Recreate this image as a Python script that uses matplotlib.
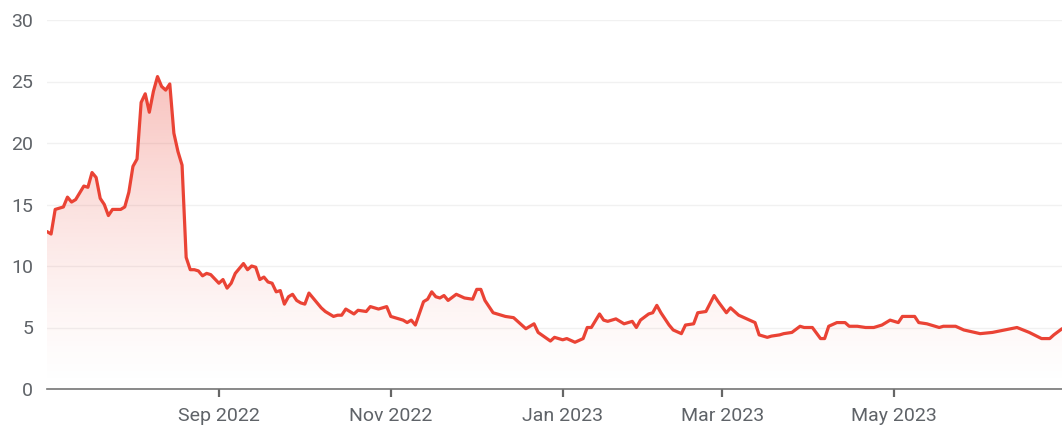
import matplotlib
matplotlib.use("Agg")
import matplotlib.pyplot as plt
import numpy as np
import pandas as pd
from matplotlib.colors import to_rgb

# trading days only (weekends and market holidays are skipped on the x axis)
market_holidays = [
    "2022-07-04", "2022-09-05", "2022-11-24", "2022-12-26", "2023-01-02",
    "2023-01-16", "2023-02-20", "2023-04-07", "2023-05-29", "2023-06-19",
]
dates = [
    "2022-07-05", "2022-07-06", "2022-07-07", "2022-07-11", "2022-07-12", "2022-07-13",
    "2022-07-14", "2022-07-18", "2022-07-19", "2022-07-20", "2022-07-21", "2022-07-22",
    "2022-07-25", "2022-07-26", "2022-07-27", "2022-07-29", "2022-08-01", "2022-08-02",
    "2022-08-03", "2022-08-04", "2022-08-05", "2022-08-08", "2022-08-09", "2022-08-10",
    "2022-08-11", "2022-08-12", "2022-08-15", "2022-08-16", "2022-08-17", "2022-08-18",
    "2022-08-19", "2022-08-22", "2022-08-23", "2022-08-24", "2022-08-25", "2022-08-26",
    "2022-08-29", "2022-08-30", "2022-09-01", "2022-09-02", "2022-09-06", "2022-09-07",
    "2022-09-08", "2022-09-12", "2022-09-13", "2022-09-14", "2022-09-15", "2022-09-16",
    "2022-09-19", "2022-09-20", "2022-09-21", "2022-09-22", "2022-09-23", "2022-09-26",
    "2022-09-27", "2022-09-28", "2022-09-29", "2022-09-30", "2022-10-03", "2022-10-04",
    "2022-10-05", "2022-10-07", "2022-10-10", "2022-10-12", "2022-10-13", "2022-10-14",
    "2022-10-17", "2022-10-19", "2022-10-20", "2022-10-24", "2022-10-25", "2022-10-27",
    "2022-10-31", "2022-11-01", "2022-11-03", "2022-11-04", "2022-11-07", "2022-11-08",
    "2022-11-09", "2022-11-11", "2022-11-14", "2022-11-15", "2022-11-16", "2022-11-17",
    "2022-11-18", "2022-11-21", "2022-11-23", "2022-11-28", "2022-11-30", "2022-12-01",
    "2022-12-02", "2022-12-05", "2022-12-07", "2022-12-09", "2022-12-12", "2022-12-14",
    "2022-12-15", "2022-12-19", "2022-12-21", "2022-12-22", "2022-12-28", "2022-12-29",
    "2023-01-03", "2023-01-04", "2023-01-06", "2023-01-10", "2023-01-11", "2023-01-12",
    "2023-01-17", "2023-01-18", "2023-01-19", "2023-01-23", "2023-01-25", "2023-01-27",
    "2023-01-30", "2023-01-31", "2023-02-02", "2023-02-03", "2023-02-06", "2023-02-07",
    "2023-02-09", "2023-02-10", "2023-02-14", "2023-02-15", "2023-02-17", "2023-02-21",
    "2023-02-23", "2023-02-27", "2023-02-28", "2023-03-02", "2023-03-03", "2023-03-07",
    "2023-03-09", "2023-03-13", "2023-03-14", "2023-03-16", "2023-03-17", "2023-03-21",
    "2023-03-22", "2023-03-24", "2023-03-28", "2023-03-29", "2023-03-31", "2023-04-04",
    "2023-04-05", "2023-04-06", "2023-04-11", "2023-04-13", "2023-04-14", "2023-04-18",
    "2023-04-20", "2023-04-24", "2023-04-26", "2023-04-28", "2023-05-02", "2023-05-03",
    "2023-05-08", "2023-05-09", "2023-05-11", "2023-05-16", "2023-05-17", "2023-05-22",
    "2023-05-24", "2023-05-31", "2023-06-05", "2023-06-08", "2023-06-13", "2023-06-16",
    "2023-06-22", "2023-06-26", "2023-06-27", "2023-06-29",
]
values = [
    12.8, 12.6, 14.6, 14.8, 15.6, 15.2,
    15.4, 16.5, 16.4, 17.6, 17.2, 15.5,
    15.0, 14.1, 14.6, 14.6, 14.8, 16.0,
    18.1, 18.7, 23.3, 24.0, 22.5, 24.2,
    25.4, 24.6, 24.3, 24.8, 20.8, 19.3,
    18.2, 10.7, 9.7, 9.7, 9.6, 9.2,
    9.4, 9.3, 8.6, 8.9, 8.2, 8.6,
    9.4, 10.2, 9.7, 10.0, 9.9, 8.9,
    9.1, 8.7, 8.6, 7.9, 8.0, 6.9,
    7.5, 7.7, 7.2, 7.0, 6.9, 7.8,
    7.4, 6.6, 6.3, 5.9, 6.0, 6.0,
    6.5, 6.1, 6.4, 6.3, 6.7, 6.5,
    6.7, 5.9, 5.7, 5.6, 5.4, 5.6,
    5.2, 7.1, 7.3, 7.9, 7.5, 7.4,
    7.6, 7.2, 7.7, 7.4, 7.3, 8.1,
    8.1, 7.2, 6.2, 6.0, 5.9, 5.8,
    5.5, 4.9, 5.3, 4.6, 3.9, 4.2,
    4.0, 4.1, 3.8, 4.1, 5.0, 5.0,
    6.1, 5.6, 5.5, 5.7, 5.3, 5.5,
    5.0, 5.6, 6.1, 6.2, 6.8, 6.2,
    5.2, 4.8, 4.5, 5.2, 5.3, 6.2,
    6.3, 7.6, 7.1, 6.2, 6.6, 6.0,
    5.7, 5.4, 4.4, 4.2, 4.3, 4.4,
    4.5, 4.6, 5.1, 5.0, 5.0, 4.1,
    4.1, 5.1, 5.4, 5.4, 5.1, 5.1,
    5.0, 5.0, 5.2, 5.6, 5.4, 5.9,
    5.9, 5.4, 5.3, 5.0, 5.1, 5.1,
    4.8, 4.5, 4.6, 4.8, 5.0, 4.6,
    4.1, 4.1, 4.4, 4.9,
]
tick_months = ["2022-09-01", "2022-11-01", "2023-01-01", "2023-03-01", "2023-05-01"]
y_ticks = [0, 5, 10, 15, 20, 25, 30]

plt.rcParams['font.family'] = ['Roboto', 'DejaVu Sans']

origin = "2022-07-01"
xs = np.busday_count(origin, dates, holidays=market_holidays).astype(float)
first_days = np.busday_offset(tick_months, 0, roll='forward', holidays=market_holidays)
tick_pos = np.busday_count(origin, first_days, holidays=market_holidays)
tick_labels = [pd.Timestamp(d).strftime("%b %Y") for d in tick_months]

line_color = "#EA4335"
text_color = "#5f6368"

fig = plt.figure(figsize=(10.62, 4.33), dpi=100)
ax = fig.add_axes([47 / 1062, 44 / 433, 1 - 47 / 1062, (389 - 20) / 433])

ax.plot(xs, values, color=line_color, lw=2.3, zorder=3,
        solid_joinstyle='round', solid_capstyle='round')

# gradient fill under the line
poly = ax.fill_between(xs, values, 0, color='none')
grad = np.zeros((256, 1, 4))
grad[:, 0, :3] = to_rgb(line_color)
grad[:, 0, 3] = 0.32 * np.linspace(0.0, 1.0, 256) ** 1.3
img = ax.imshow(grad, aspect='auto', origin='lower',
                extent=[xs[0], xs[-1], 0, max(values)], zorder=2)
img.set_clip_path(poly.get_paths()[0], transform=ax.transData)

ax.set_xlim(xs[0], xs[-1])
ax.set_ylim(0, 30)
ax.set_yticks(y_ticks)
ax.set_xticks(tick_pos)
ax.set_xticklabels(tick_labels)

ax.grid(axis='y', color='#f1f1f1', lw=1)
ax.set_axisbelow(True)
for s in ['top', 'right', 'left']:
    ax.spines[s].set_visible(False)
ax.spines['bottom'].set_color('#757575')
ax.spines['bottom'].set_linewidth(1.2)
ax.tick_params(axis='y', length=0, pad=10, labelsize=14, labelcolor=text_color)
ax.tick_params(axis='x', length=6, width=1.6, color='#666666', pad=7,
               labelsize=14, labelcolor=text_color)

fig.savefig("out.png", dpi=100)
